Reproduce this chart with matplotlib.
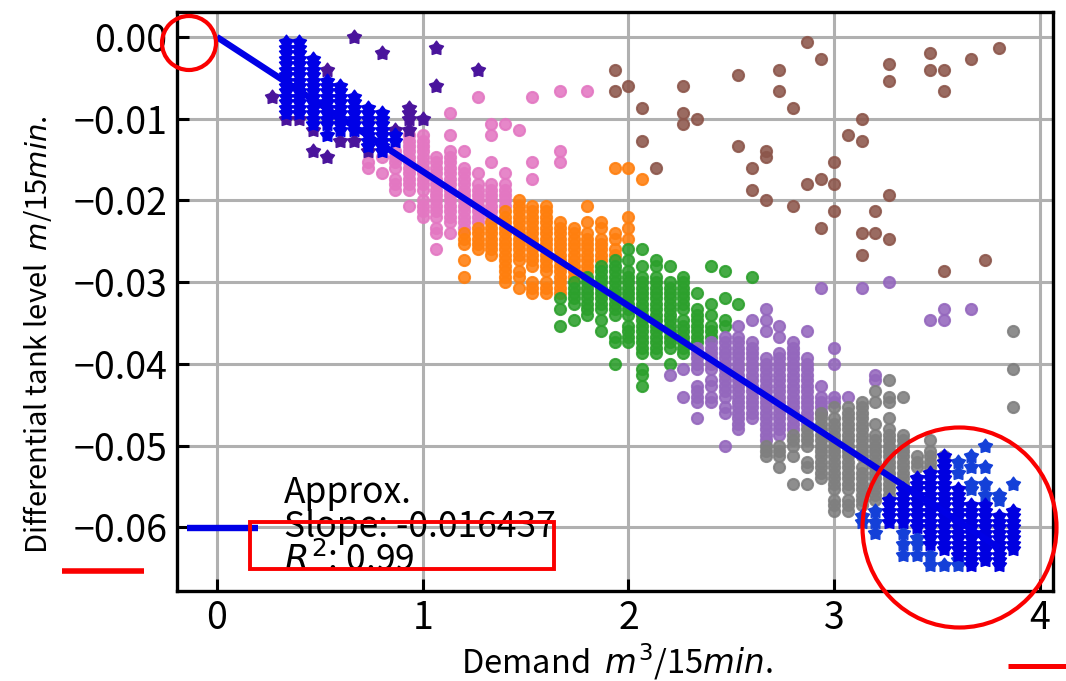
import numpy as np
import matplotlib
matplotlib.use('Agg')
import matplotlib.pyplot as plt
from matplotlib.patches import Ellipse, Rectangle
from matplotlib.lines import Line2D
from matplotlib.path import Path

plt.rcParams['font.family'] = ['Noto Sans CJK JP', 'DejaVu Sans']
plt.rcParams['mathtext.fontset'] = 'dejavusans'

# los datos estan discretizados: demanda = i/15, nivel = -k/1500
DEMAND_STEP = 15
LEVEL_STEP = 1500

brown_i = [29, 30, 31, 32, 34, 35, 38, 39, 40, 41, 42, 43, 44, 45, 46, 47, 48, 49, 52, 53, 55, 56, 57]
brown_k = [[6, 10], [9], [13, 19], [24], [9, 14, 16], [15], [7, 20], [24, 28], [21, 22, 30], [6, 10],
           [13, 31], [1, 27], [4, 26, 35], [23, 27, 32], [18], [15, 19, 36, 40], [32, 36], [5, 8, 29, 37],
           [3, 6], [6, 10, 43], [4], [41], [2]]

pink_i = [11, 12, 13, 14, 15, 16, 17, 18, 19, 20, 21, 22, 23, 25, 27]
pink_k = [[23, 24], [22, 25], [21, 22, 23, 24, 26, 27, 28],
          [18, 19, 20, 21, 22, 23, 24, 25, 26, 27, 28, 31],
          [18, 19, 20, 21, 22, 23, 24, 25, 26, 27, 28, 30, 31, 32, 33],
          [22, 23, 24, 25, 26, 27, 28, 29, 30, 31, 32, 33, 35, 36, 39],
          [14, 18, 21, 22, 23, 24, 25, 26, 27, 28, 29, 30, 31, 32, 33, 34, 36],
          [21, 24, 25, 26, 27, 28, 29, 30, 31, 32, 33, 34, 35],
          [11, 25, 27, 28, 29, 30, 31, 32, 33, 34],
          [16, 18, 23, 27, 28, 29, 30, 31, 32, 33],
          [16, 25, 27, 28, 29, 30, 31], [17], [11, 23, 26], [10, 21, 23], [10]]

orange_i = [18, 19, 20, 21, 22, 23, 24, 25, 26, 27, 28, 29, 30, 31]
orange_k = [[36, 37, 38, 41, 44], [35, 36, 37, 38, 39], [34, 35, 36, 37, 38, 39, 40],
            [32, 33, 34, 35, 36, 37, 38, 39, 40, 41, 42, 43, 44, 45],
            [30, 31, 32, 33, 34, 35, 36, 37, 38, 39, 40, 41, 43, 44, 46],
            [31, 32, 33, 34, 35, 36, 37, 38, 39, 40, 41, 42, 45, 46, 47],
            [31, 32, 33, 34, 35, 36, 37, 38, 39, 40, 41, 42, 43, 45, 46, 47],
            [34, 35, 36, 37, 38, 39, 40, 41, 42, 43, 44, 45, 46, 47],
            [35, 36, 37, 38, 39, 40, 41, 42, 43, 44],
            [31, 34, 36, 37, 38, 39, 40, 41, 42, 43],
            [34, 35, 37, 38, 39, 40, 41], [24, 36, 37, 39, 40], [24, 33, 35, 37], [26]]

green_i = [25, 26, 27, 28, 29, 30, 31, 32, 33, 34, 35, 36, 37, 38, 39]
green_k = [[48, 50, 53], [45, 46, 47, 48, 49, 52], [44, 45, 46, 47, 48, 49, 50, 51],
           [42, 43, 44, 45, 46, 47, 48, 49, 50, 52, 54],
           [41, 42, 43, 44, 45, 46, 47, 48, 49, 50, 51, 55, 56, 60],
           [39, 41, 43, 44, 45, 46, 47, 48, 49, 50, 51, 53, 54, 55, 56],
           [39, 42, 44, 45, 46, 47, 48, 49, 50, 51, 52, 53, 54, 55, 56, 57, 58, 61, 62, 64],
           [41, 42, 44, 45, 46, 47, 48, 49, 50, 51, 52, 53, 54, 55, 56, 57, 58],
           [42, 45, 46, 47, 48, 49, 50, 51, 52, 53, 54, 55, 56, 57, 60],
           [44, 45, 46, 47, 48, 49, 50, 52, 53, 54, 55, 56, 57, 58],
           [47, 50, 51, 52, 53, 54, 55, 56], [42, 49, 51, 53, 54, 55], [43, 48, 52, 53], [49], [44]]

purple_i = [33, 34, 35, 36, 37, 38, 39, 40, 41, 42, 43, 44, 45, 46, 47, 48, 49, 52, 53, 55]
purple_k = [[62], [61, 66], [57, 58, 59, 60, 61, 64, 65, 66, 67, 70],
            [56, 57, 58, 59, 60, 61, 63, 64, 66, 67],
            [55, 56, 57, 58, 59, 60, 61, 62, 63, 64, 65, 66, 68, 69, 75],
            [53, 55, 56, 57, 58, 59, 60, 61, 62, 63, 64, 65, 66, 67, 68, 69, 70, 71, 72],
            [52, 56, 57, 58, 59, 60, 61, 62, 63, 64, 65, 66, 67, 68, 69, 70],
            [50, 52, 54, 59, 60, 61, 62, 63, 64, 65, 66, 67, 68, 69, 70, 71, 72, 73, 74],
            [53, 55, 58, 59, 60, 61, 62, 63, 64, 65, 66, 67, 68, 69, 70, 71, 72, 73],
            [56, 57, 58, 59, 60, 61, 62, 63, 64, 65, 66, 67, 68, 69, 70, 71, 72],
            [54, 59, 60, 61, 62, 63, 64, 65, 66, 67, 68, 69, 70, 71],
            [46, 64, 66, 67, 68, 69], [57, 60, 66, 67], [66], [46], [62, 63], [45], [52], [50, 52], [50]]

gray_i = [40, 41, 42, 43, 44, 45, 46, 47, 48, 49, 50, 51, 52, 53, 58]
gray_k = [[75, 76, 77], [75, 76, 77, 79], [73, 74, 75, 77, 82], [72, 73, 74, 75, 78, 79, 82],
          [69, 70, 71, 72, 73, 74, 75, 76, 77, 78, 79, 80, 81],
          [68, 70, 71, 72, 73, 74, 75, 76, 77, 78, 79, 80, 81, 82, 83, 85, 86, 87],
          [68, 69, 70, 71, 72, 73, 74, 75, 76, 77, 78, 79, 80, 81, 82, 83, 85, 86, 87],
          [67, 68, 69, 70, 71, 72, 73, 74, 75, 76, 77, 79, 80, 81, 82, 83, 84, 85, 86],
          [65, 67, 71, 73, 74, 75, 76, 77, 78, 79, 80, 81, 82, 83, 84, 85],
          [63, 66, 67, 70, 72, 73, 74, 75, 76, 77, 78, 79, 80, 81, 82, 83, 84],
          [66, 73, 74, 75, 76, 77, 78, 79, 80, 81, 82], [77, 78, 79], [74, 76, 77, 78, 79], [77],
          [54, 61, 68]]

# estrellas de los extremos (zona baja y zona alta de demanda)
low_dense_i = [5, 6, 7, 8, 9, 10, 11, 12, 13]
low_dense_k = [[1, 2, 3, 4, 5, 6, 7, 8, 9, 10, 11, 12, 13, 14],
               [1, 2, 3, 4, 5, 6, 7, 8, 9, 10, 11, 12, 13, 14],
               [4, 5, 6, 7, 8, 9, 10, 11, 12, 13, 14, 15, 16],
               [8, 9, 10, 11, 12, 13, 14, 15, 16, 18],
               [9, 10, 11, 12, 13, 14, 15, 16, 17],
               [11, 12, 13, 14, 15, 16, 17],
               [13, 14, 15, 16, 17, 18, 19, 20],
               [14, 15, 16, 17, 18, 19, 20, 21],
               [18, 19]]
low_single_i = [4, 5, 6, 7, 8, 9, 10, 11, 12, 13, 14, 15, 16, 19]
low_single_k = [[11], [15], [15], [17, 21], [6, 22], [19], [0, 19], [21], [3], [17], [13, 14, 15, 17],
                [15], [2, 9], [6]]

high_dense_i = [49, 50, 51, 52, 53, 54, 55, 56, 57, 58]
high_dense_k = [[85, 86, 87, 88, 89],
                [83, 84, 85, 86, 87, 88, 89],
                [81, 82, 83, 84, 85, 86, 87, 88, 89, 90],
                [80, 81, 82, 83, 84, 85, 86, 87, 88, 89, 90, 91, 92, 93],
                [77, 78, 79, 80, 81, 82, 83, 84, 85, 86, 87, 88, 89, 90, 91, 92, 93, 94],
                [83, 84, 85, 86, 87, 88, 89, 90, 91, 92, 93, 94, 95],
                [86, 87, 88, 89, 90, 91, 92, 93, 94, 95, 96, 97],
                [86, 87, 88, 89, 90, 91, 92, 93, 94, 95, 96],
                [88, 89, 90, 91, 92, 93, 94, 95, 96, 97],
                [87, 88, 89, 90, 91, 92, 93, 94]]
high_single_i = [47, 48, 50, 51, 52, 53, 54, 55, 56, 57, 58]
high_single_k = [[88, 89], [87, 89, 91], [91, 93, 95], [92, 93, 95], [95, 97], [97], [78, 80, 96, 97],
                 [77, 79, 82, 83], [75, 79, 82, 84], [84, 85], [82]]

fit_x = [0, 3.8]
fit_y = [0, -0.0625]

x_ticks = [0, 1, 2, 3, 4]
y_ticks = [0.00, -0.01, -0.02, -0.03, -0.04, -0.05, -0.06]


def puntos(columnas, niveles):
    x = np.repeat(columnas, [len(n) for n in niveles]) / DEMAND_STEP
    y = -np.concatenate(niveles) / LEVEL_STEP
    return x, y


W, H = 1066, 681
fig = plt.figure(figsize=(W / 100, H / 100), dpi=100)
ax = fig.add_axes([177 / W, 1 - 591 / H, (1053 - 177) / W, (591 - 12) / H])

circulos = [(brown_i, brown_k, 'tab:brown'), (pink_i, pink_k, 'tab:pink'), (orange_i, orange_k, 'tab:orange'),
            (green_i, green_k, 'tab:green'), (purple_i, purple_k, 'tab:purple'), (gray_i, gray_k, 'tab:gray')]
for cols, niveles, color in circulos:
    x, y = puntos(cols, niveles)
    ax.scatter(x, y, s=64, color=color, alpha=0.88, linewidths=1.5, zorder=3)

# estrella gruesa, como la del original
estrella = Path.unit_regular_star(5, innerCircle=0.62)
estrellas = [(low_single_i, low_single_k, '#4a149c'), (low_dense_i, low_dense_k, '#0000e6'),
             (high_single_i, high_single_k, '#1440d8'), (high_dense_i, high_dense_k, '#0000e0')]
for cols, niveles, color in estrellas:
    x, y = puntos(cols, niveles)
    ax.scatter(x, y, s=112, marker=estrella, color=color, linewidths=1.0, zorder=4)

linea, = ax.plot(fit_x, fit_y, color='#0000e6', lw=4.6, zorder=5, solid_capstyle='butt')

ax.set_xlim(-0.194, 4.063)
ax.set_ylim(-0.0678, 0.00306)
ax.set_xticks(x_ticks)
ax.set_yticks(y_ticks)
ax.set_yticklabels([f'\u2212{abs(v):.2f}' if v < 0 else f'{v:.2f}' for v in y_ticks])
ax.grid(True, color='#b0b0b0', lw=2.2)
ax.set_axisbelow(True)
ax.tick_params(direction='in', length=8.5, width=2.2, labelsize=27, pad=7, color='black')
ax.tick_params(axis='x', pad=6)
for s in ax.spines.values():
    s.set_linewidth(2.4)

fig.text(617 / W, 1 - 662 / H, 'Demand  $m^3$/15$min$.', ha='center', va='center', fontsize=23.5)
fig.text(38 / W, 1 - 335 / H, 'Differential tank level  $m$/15$min$.', ha='center', va='center',
         rotation=90, fontsize=21)

etiqueta = 'Approx.\nSlope: -0.016437\n$R^2$: 0.99'
ax.legend([linea], [etiqueta], frameon=False, loc='lower left', fontsize=25.5, handlelength=2.0,
          handletextpad=0.73, labelspacing=0, borderaxespad=0, borderpad=0,
          bbox_to_anchor=(187 / W, 1 - 579 / H), bbox_transform=fig.transFigure)
leg = ax.get_legend()
leg.get_texts()[0].set_linespacing(0.93)
leg.set_zorder(6)

# marcas rojas dibujadas encima de la figura
rojo = '#fa0000'
fig.add_artist(Ellipse((189 / W, 1 - 43 / H), 54 / W, 54 / H, fill=False, ec=rojo, lw=3, transform=fig.transFigure))
fig.add_artist(Ellipse((959.5 / W, 1 - 527.5 / H), 194 / W, 200 / H, fill=False, ec=rojo, lw=3,
                       transform=fig.transFigure))
fig.add_artist(Rectangle((250 / W, 1 - 569 / H), 304 / W, 47 / H, fill=False, ec=rojo, lw=2.8,
                         transform=fig.transFigure))
fig.add_artist(Line2D([62 / W, 144 / W], [1 - 571 / H, 1 - 571 / H], color=rojo, lw=4, transform=fig.transFigure,
                      solid_capstyle='butt'))
fig.add_artist(Line2D([1008 / W, 1066 / W], [1 - 666 / H, 1 - 666 / H], color=rojo, lw=3.6, transform=fig.transFigure,
                      solid_capstyle='butt'))

fig.savefig('out.png', dpi=100)
